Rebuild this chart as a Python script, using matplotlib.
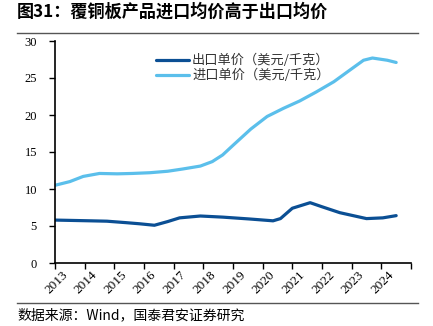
import matplotlib
matplotlib.use('Agg')
import matplotlib.pyplot as plt
from matplotlib.lines import Line2D

plt.rcParams['font.family'] = ['Noto Sans CJK SC', 'DejaVu Sans']

# ── data (x in fractional years) ─────────────────────────────────────────────
years = list(range(2013, 2025))

import_x = [2012.5, 2013.0, 2013.45, 2014.0, 2014.6, 2015.1, 2015.7, 2016.3,
            2016.8, 2017.4, 2017.8, 2018.15, 2018.5, 2019.1, 2019.65, 2020.2,
            2020.75, 2021.3, 2021.9, 2022.45, 2022.9, 2023.2, 2023.7, 2024.0]
import_price = [10.5, 11.0, 11.7, 12.1, 12.05, 12.1, 12.2, 12.4,
                12.7, 13.1, 13.7, 14.6, 15.9, 18.1, 19.8, 20.9,
                21.9, 23.1, 24.5, 26.1, 27.4, 27.7, 27.4, 27.1]

export_x = [2012.5, 2013.7, 2014.25, 2014.9, 2015.35, 2015.85, 2016.3, 2016.7,
            2017.4, 2018.15, 2019.05, 2019.85, 2020.1, 2020.5, 2021.1, 2021.5,
            2022.1, 2023.0, 2023.55, 2024.0]
export_price = [5.8, 5.7, 5.65, 5.45, 5.3, 5.1, 5.6, 6.1,
                6.35, 6.2, 5.95, 5.7, 6.0, 7.4, 8.15, 7.6,
                6.8, 6.0, 6.1, 6.4]

EXPORT_COLOR = '#0b4f94'
IMPORT_COLOR = '#5bbfeb'
SERIF = ['Liberation Serif', 'DejaVu Serif']

# ── figure ───────────────────────────────────────────────────────────────────
fig = plt.figure(figsize=(4.33, 3.26), dpi=100)
ax = fig.add_axes([55 / 433, 1 - 263 / 326, 356 / 433, 222 / 326])

ax.plot(export_x, export_price, color=EXPORT_COLOR, lw=2.3,
        solid_capstyle='round', solid_joinstyle='round',
        label='出口单价（美元/千克）')
ax.plot(import_x, import_price, color=IMPORT_COLOR, lw=2.3,
        solid_capstyle='round', solid_joinstyle='round',
        label='进口单价（美元/千克）')

ax.set_xlim(2012.5, 2024.5)
ax.set_ylim(0, 30)
ax.set_yticks(range(0, 31, 5))
ax.set_yticklabels([str(v) for v in range(0, 31, 5)], family=SERIF, fontsize=9)

# boundary ticks, labels at category centres
ax.set_xticks([y - 0.5 for y in years] + [years[-1] + 0.5])
ax.set_xticklabels([])
ax.set_xticks(years, minor=True)
ax.set_xticklabels([str(y) for y in years], minor=True, rotation=45,
                   ha='right', va='top', family=SERIF, fontsize=9.5)
ax.tick_params(axis='x', which='minor', length=0, pad=4)
ax.tick_params(axis='both', which='major', direction='out', length=4,
               width=1, colors='black')
ax.tick_params(axis='y', pad=9)

for s in ('top', 'right'):
    ax.spines[s].set_visible(False)
for s in ('left', 'bottom'):
    ax.spines[s].set_linewidth(1.2)

leg = ax.legend(loc='upper left', bbox_to_anchor=(0.27, 0.965), frameon=False,
                fontsize=9.5, handlelength=2.5, handletextpad=0.2,
                labelspacing=0.12, borderaxespad=0)
for t in leg.get_texts():
    t.set_color('#333333')

# ── title, rules, source ─────────────────────────────────────────────────────
fig.text(17 / 433, 1 - 12 / 326, '图31：覆铜板产品进口均价高于出口均价',
         fontsize=12.3, fontweight='bold', va='center', ha='left')
for yy in (33, 303):
    fig.add_artist(Line2D([17 / 433, 418 / 433], [1 - yy / 326] * 2,
                          color='#555555', lw=1, transform=fig.transFigure))
fig.text(17 / 433, 1 - 315 / 326, '数据来源：Wind，国泰君安证券研究',
         fontsize=10, va='center', ha='left')

fig.savefig('out.png', dpi=100)
